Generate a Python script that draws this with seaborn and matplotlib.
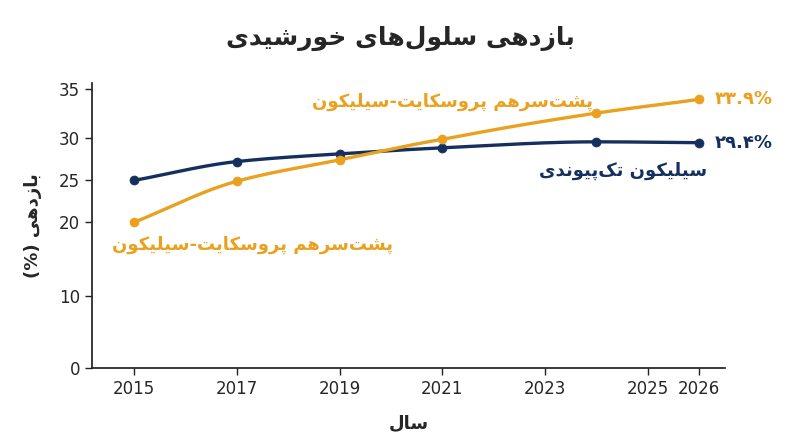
import numpy as np
import matplotlib
matplotlib.use("Agg")
import matplotlib.pyplot as plt
import seaborn as sns

years_si = [2015, 2017, 2019, 2021, 2024, 2026]
eff_si = [25.0, 27.2, 28.1, 28.8, 29.5, 29.4]
years_pk = [2015, 2017, 2019, 2021, 2024, 2026]
eff_pk = [20.0, 24.9, 27.4, 29.8, 32.5, 33.9]
x_ticks = [2015, 2017, 2019, 2021, 2023, 2025, 2026]
y_ticks = [0, 10, 20, 25, 30, 35]

NAVY = "#15305e"
ORANGE = "#e9a11f"

# ---- minimal Persian shaping (matplotlib has no RTL support) ----
FORMS = {
    'ا': (0xFE8D, 0xFE8E, None, None), 'ب': (0xFE8F, 0xFE90, 0xFE91, 0xFE92),
    'پ': (0xFB56, 0xFB57, 0xFB58, 0xFB59), 'ت': (0xFE95, 0xFE96, 0xFE97, 0xFE98),
    'خ': (0xFEA5, 0xFEA6, 0xFEA7, 0xFEA8), 'د': (0xFEA9, 0xFEAA, None, None),
    'ر': (0xFEAD, 0xFEAE, None, None), 'ز': (0xFEAF, 0xFEB0, None, None),
    'س': (0xFEB1, 0xFEB2, 0xFEB3, 0xFEB4), 'ش': (0xFEB5, 0xFEB6, 0xFEB7, 0xFEB8),
    'ک': (0xFB8E, 0xFB8F, 0xFB90, 0xFB91), 'ل': (0xFEDD, 0xFEDE, 0xFEDF, 0xFEE0),
    'م': (0xFEE1, 0xFEE2, 0xFEE3, 0xFEE4), 'ن': (0xFEE5, 0xFEE6, 0xFEE7, 0xFEE8),
    'ه': (0xFEE9, 0xFEEA, 0xFEEB, 0xFEEC), 'و': (0xFEED, 0xFEEE, None, None),
    'ی': (0xFBFC, 0xFBFD, 0xFBFE, 0xFBFF),
}


def fa(text):
    out = []
    n = len(text)
    for i, c in enumerate(text):
        if c not in FORMS:
            if c != '\u200c':
                out.append(c)
            continue
        prev = text[i - 1] if i > 0 else ''
        nxt = text[i + 1] if i < n - 1 else ''
        jp = prev in FORMS and FORMS[prev][2] is not None
        jn = nxt in FORMS and FORMS[c][2] is not None
        iso, fin, ini, med = FORMS[c]
        if jp and jn:
            code = med
        elif jp:
            code = fin
        elif jn:
            code = ini
        else:
            code = iso
        out.append(chr(code))
    s = ''.join(reversed(out))
    return s.translate(str.maketrans('()', ')('))


sns.set_theme(style="white")
plt.rcParams['font.family'] = ['DejaVu Sans']

# piecewise axis like the reference (pixel positions)
yv = [0, 10, 20, 25, 30, 35, 40]
yp = [0, 72, 146, 188, 231, 280, 330]
fwd = lambda v: np.interp(v, yv, yp)
inv = lambda p: np.interp(p, yp, yv)


def pchip(x, y, n=200):
    x = np.asarray(x, float); y = np.asarray(y, float)
    h = np.diff(x); d = np.diff(y) / h
    m = np.zeros_like(y)
    m[0], m[-1] = d[0], d[-1]
    for k in range(1, len(x) - 1):
        if d[k - 1] * d[k] > 0:
            w1 = 2 * h[k] + h[k - 1]; w2 = h[k] + 2 * h[k - 1]
            m[k] = (w1 + w2) / (w1 / d[k - 1] + w2 / d[k])
    xs = np.linspace(x[0], x[-1], n)
    idx = np.clip(np.searchsorted(x, xs) - 1, 0, len(x) - 2)
    t = (xs - x[idx]) / h[idx]
    h00 = 2 * t**3 - 3 * t**2 + 1; h10 = t**3 - 2 * t**2 + t
    h01 = -2 * t**3 + 3 * t**2; h11 = t**3 - t**2
    ys = h00 * y[idx] + h10 * h[idx] * m[idx] + h01 * y[idx + 1] + h11 * h[idx] * m[idx + 1]
    return xs, ys


fig = plt.figure(figsize=(8, 4.47), dpi=100)
ax = fig.add_axes([0.115, 0.177, 0.791, 0.638])
ax.set_yscale('function', functions=(fwd, inv))

for xs, ys, col in [(years_si, eff_si, NAVY), (years_pk, eff_pk, ORANGE)]:
    cx, cy = pchip(xs, ys)
    sns.lineplot(x=cx, y=cy, color=col, lw=2.4, ax=ax)
    sns.scatterplot(x=xs, y=ys, color=col, s=42, edgecolor=col, ax=ax, zorder=3)

ax.set_xlim(2014.18, 2026.5)
ax.set_ylim(0, 35.6)
ax.set_xticks(x_ticks)
ax.set_yticks(y_ticks)
ax.tick_params(axis='both', length=5, width=1, color='#222', labelsize=12, direction='out',
               left=True, bottom=True)
for s in ['top', 'right']:
    ax.spines[s].set_visible(False)
for s in ['left', 'bottom']:
    ax.spines[s].set_color('#222')

ax.set_xlabel(fa('سال'), fontsize=13, fontweight='bold', labelpad=12)
ax.set_ylabel(fa('بازدهی (%)'), fontsize=13, fontweight='bold', labelpad=12)
fig.text(0.5, 0.9, fa('بازدهی سلول‌های خورشیدی'), ha='center', fontsize=18, fontweight='bold')

lab_pk = fa('پشت‌سرهم پروسکایت-سیلیکون')
ax.text(2021.2, 33.6, lab_pk, color=ORANGE, fontsize=13, fontweight='bold', ha='center', va='center')
ax.text(2017.3, 16.9, lab_pk, color=ORANGE, fontsize=13, fontweight='bold', ha='center', va='center')
ax.text(2026.15, 26.1, fa('سیلیکون تک‌پیوندی'), color=NAVY, fontsize=13, fontweight='bold',
        ha='right', va='center')
ax.text(2026.3, eff_pk[-1], '۳۳.۹%', color=ORANGE, fontsize=13, fontweight='bold', va='center',
        clip_on=False)
ax.text(2026.3, eff_si[-1], '۲۹.۴%', color=NAVY, fontsize=13, fontweight='bold', va='center',
        clip_on=False)

fig.savefig('out.png', dpi=100)
